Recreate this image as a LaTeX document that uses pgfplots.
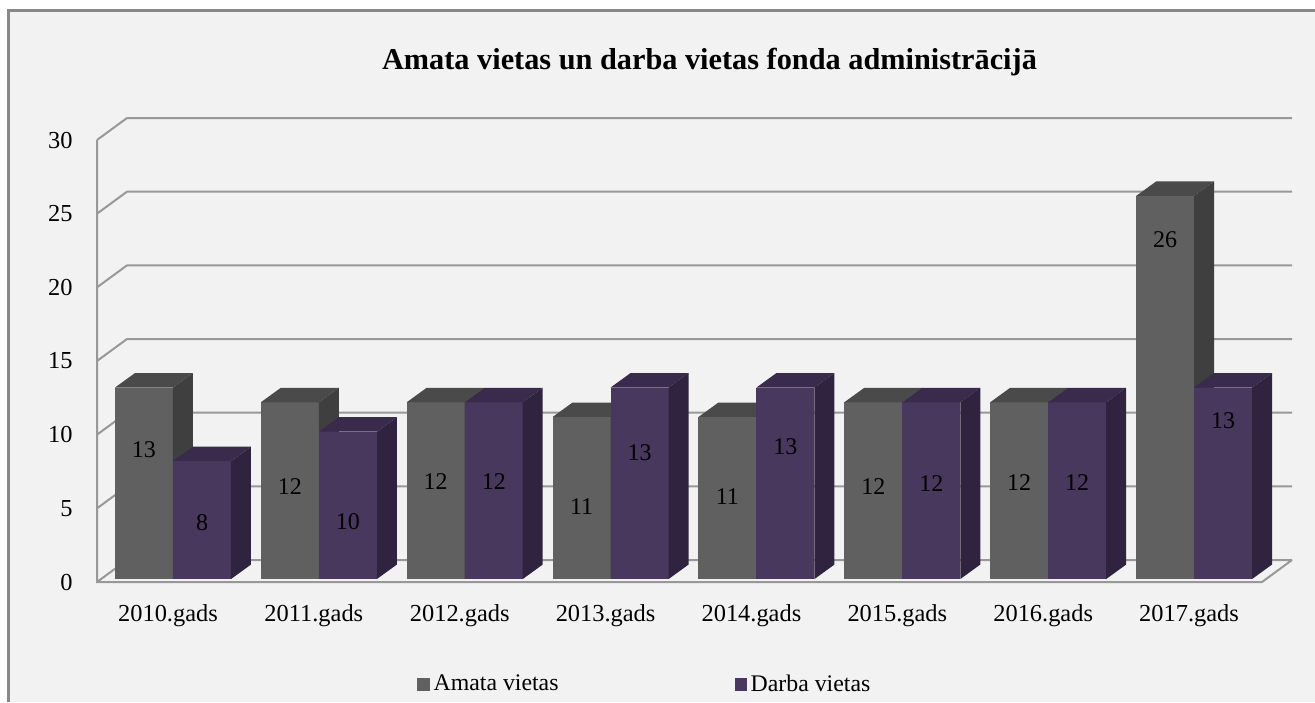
\documentclass[border=0pt]{standalone}
\usepackage{fontspec}
\setmainfont{Liberation Serif}
\usepackage{pgfplots}
\usepackage{pgfplotstable}
\pgfplotsset{compat=1.18}

\definecolor{grayF}{RGB}{96,96,96}
\definecolor{grayT}{RGB}{74,74,74}
\definecolor{grayS}{RGB}{63,63,63}
\definecolor{purF}{RGB}{72,56,94}
\definecolor{purT}{RGB}{58,42,76}
\definecolor{purS}{RGB}{47,35,63}
\definecolor{gridc}{RGB}{152,152,152}
\definecolor{bgc}{RGB}{242,242,242}
\definecolor{bordc}{RGB}{136,136,136}

% x = category index, amata / darba = values, ya / yd = height of the value label
\pgfplotstableread{
x amata darba ya   yd
0 13    8     8.96 4.00
1 12    10    6.45 4.07
2 12    12    6.79 6.79
3 11    13    5.09 8.76
4 11    13    5.77 9.16
5 12    12    6.45 6.65
6 12    12    6.72 6.72
7 26    13    23.21 10.93
}\datatable

\def\bw{0.3975}% bar width (axis units)
\def\dX{0.137}% bar depth, x
\def\dY{0.984}% bar depth, y
\def\bo{0.2}%  bar base offset

\newcommand\cube[5]{%
  \pgfmathsetmacro\xa{#1}%
  \pgfmathsetmacro\xb{#1+\bw}%
  \pgfmathsetmacro\xc{#1+\dX}%
  \pgfmathsetmacro\xd{#1+\bw+\dX}%
  \pgfmathsetmacro\ya{\bo}%
  \pgfmathsetmacro\yb{#2+\bo}%
  \pgfmathsetmacro\yc{#2+\bo+\dY}%
  \pgfmathsetmacro\yd{\bo+\dY}%
  \edef\tmp{%
    \noexpand\addplot[fill=#3,draw=none,forget plot] coordinates {(\xa,\ya) (\xb,\ya) (\xb,\yb) (\xa,\yb)} -- cycle;
    \noexpand\addplot[fill=#4,draw=none,forget plot] coordinates {(\xa,\yb) (\xb,\yb) (\xd,\yc) (\xc,\yc)} -- cycle;
    \noexpand\addplot[fill=#5,draw=none,forget plot] coordinates {(\xb,\ya) (\xd,\yd) (\xd,\yc) (\xb,\yb)} -- cycle;
  }\tmp
}

\begin{document}
\begin{tikzpicture}
\path[use as bounding box] (0pt,0pt) rectangle (657.5pt,-351pt);
\fill[white] (0pt,0pt) rectangle (657.5pt,-351pt);
\fill[bgc] (4.35pt,-5.15pt) rectangle (657.5pt,-351pt);
\draw[bordc, line width=1.3pt] (4.35pt,-351pt) -- (4.35pt,-5.15pt) -- (657.5pt,-5.15pt);

\node[anchor=base, font=\bfseries\fontsize{15.15}{18}\selectfont] at (354.75pt,-34.5pt)
  {Amata vietas un darba vietas fonda administrācijā};

\begin{axis}[
  at={(48.5pt,-291pt)}, anchor=south west,
  scale only axis, width=582.5pt, height=221pt,
  xmin=-0.521, xmax=7.466, ymin=0, ymax=30,
  clip=false,
  axis line style={draw=none},
  major tick length=0pt, tick style={draw=none},
  ytick={0,5,...,30},
  xtick={0,...,7},
  xticklabels={2010.gads,2011.gads,2012.gads,2013.gads,2014.gads,2015.gads,2016.gads,2017.gads},
  /pgf/number format/assume math mode=true,
  tick label style={font=\fontsize{12.2}{14}\selectfont},
  yticklabel style={anchor=east, inner sep=0pt, xshift=-12pt},
  xticklabel style={anchor=base, inner sep=0pt, yshift=-19.5pt, xshift=-2.5pt},
  legend columns=2,
  legend style={at={(0.2747,-0.2320)}, anchor=west, draw=none, fill=none,
    inner sep=0pt, font=\fontsize{11.9}{14}\selectfont,
    /tikz/every even column/.append style={column sep=86pt}},
]
\addlegendimage{legend image code/.code={\fill[grayF] (0pt,-3pt) rectangle (5.7pt,3pt);}}
\addlegendentry{Amata vietas}
\addlegendimage{legend image code/.code={\fill[purF] (0pt,-3pt) rectangle (5.7pt,3pt);}}
\addlegendentry{Darba vietas}

% walls and floor
\draw[gridc, line width=1pt]
  (axis cs:-0.3154,1.493) -- (axis cs:7.6716,1.493)
  (axis cs:-0.3154,6.493) -- (axis cs:7.6716,6.493)
  (axis cs:-0.3154,11.493) -- (axis cs:7.6716,11.493)
  (axis cs:-0.3154,16.493) -- (axis cs:7.6716,16.493)
  (axis cs:-0.3154,21.493) -- (axis cs:7.6716,21.493)
  (axis cs:-0.3154,26.493) -- (axis cs:7.6716,26.493)
  (axis cs:-0.3154,31.493) -- (axis cs:7.6716,31.493)
  (axis cs:-0.521,0) -- (axis cs:-0.3154,1.493)
  (axis cs:-0.521,5) -- (axis cs:-0.3154,6.493)
  (axis cs:-0.521,10) -- (axis cs:-0.3154,11.493)
  (axis cs:-0.521,15) -- (axis cs:-0.3154,16.493)
  (axis cs:-0.521,20) -- (axis cs:-0.3154,21.493)
  (axis cs:-0.521,25) -- (axis cs:-0.3154,26.493)
  (axis cs:-0.521,30) -- (axis cs:-0.3154,31.493)
  (axis cs:-0.521,30) -- (axis cs:-0.521,0) -- (axis cs:7.466,0) -- (axis cs:7.6716,1.493);

\pgfplotsinvokeforeach{0,...,7}{
  \pgfplotstablegetelem{#1}{amata}\of\datatable \let\va\pgfplotsretval
  \pgfplotstablegetelem{#1}{darba}\of\datatable \let\vd\pgfplotsretval
  \cube{#1-\bw}{\va}{grayF}{grayT}{grayS}
  \cube{#1}{\vd}{purF}{purT}{purS}
}

\addplot[draw=none, forget plot,
  nodes near coords={\mbox{\rmfamily\fontsize{12}{14}\selectfont\pgfplotspointmeta}},
  point meta=explicit symbolic,
  nodes near coords style={anchor=center, inner sep=0pt}]
  table[x expr=\thisrow{x}-0.199, y=ya, meta=amata] {\datatable};
\addplot[draw=none, forget plot,
  nodes near coords={\mbox{\rmfamily\fontsize{12}{14}\selectfont\pgfplotspointmeta}},
  point meta=explicit symbolic,
  nodes near coords style={anchor=center, inner sep=0pt}]
  table[x expr=\thisrow{x}+0.199, y=yd, meta=darba] {\datatable};
\end{axis}
\end{tikzpicture}
\end{document}
